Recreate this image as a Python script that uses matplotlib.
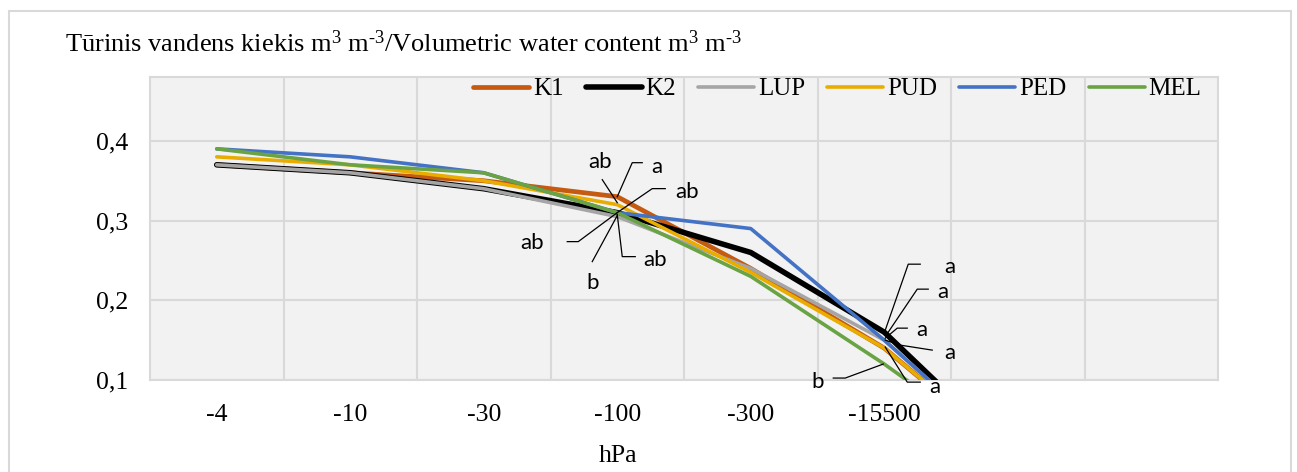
import matplotlib
matplotlib.use("Agg")
import matplotlib.pyplot as plt
from matplotlib.patches import Rectangle

# ---------------------------------------------------------------------------
# data
# ---------------------------------------------------------------------------
categories = ['-4', '-10', '-30', '-100', '-300', '-15500', '', '']
series_names = ['K1', 'K2', 'LUP', 'PUD', 'PED', 'MEL']

k1 = [0.37, 0.36, 0.35, 0.33, 0.24, 0.14, 0.0]
k2 = [0.37, 0.36, 0.34, 0.31, 0.26, 0.16, 0.0]
lup = [0.37, 0.36, 0.34, 0.305, 0.24, 0.15, 0.0]
pud = [0.38, 0.37, 0.35, 0.32, 0.235, 0.14, 0.0]
ped = [0.39, 0.38, 0.36, 0.31, 0.29, 0.15, 0.0]
mel = [0.39, 0.37, 0.36, 0.31, 0.23, 0.12, 0.0]

y_ticks = [0.1, 0.2, 0.3, 0.4]
y_tick_labels = ['0,1', '0,2', '0,3', '0,4']

# significance letters at -100 hPa and -15500 hPa
letters_100 = {'K1': 'a', 'K2': 'ab', 'LUP': 'b', 'PUD': 'ab', 'PED': 'ab', 'MEL': 'ab'}
letters_15500 = {'K1': 'a', 'K2': 'a', 'LUP': 'a', 'PUD': 'a', 'PED': 'a', 'MEL': 'b'}

# ---------------------------------------------------------------------------
# styling / layout
# ---------------------------------------------------------------------------
W, H, DPI = 1297, 472, 100
colors = {'K1': '#C55A11', 'K2': '#000000', 'LUP': '#A5A5A5',
          'PUD': '#E8AD00', 'PED': '#4472C4', 'MEL': '#6AA343'}
widths = {'K1': 3.4, 'K2': 4.0, 'LUP': 2.6, 'PUD': 2.6, 'PED': 2.6, 'MEL': 2.6}
grid_c = '#D9D9D9'

# label placement: text offset and leader vertices, in pixels relative to
# the data point (image coordinates, y pointing down)
label_layout_100 = {
    'K1':  ((40, -30), [(25, -34), (15, -34), (0, 0)]),
    'PUD': ((-17, -43), [(-15, -25), (0, -2)]),
    'PED': ((70, -21), [(48, -24), (35, -24), (0, 0)]),
    'K2':  ((-85, 30), [(-50, 29), (-39, 29), (0, 0)]),
    'MEL': ((38, 47), [(18, 44), (5, 44), (0, 2)]),
    'LUP': ((-25, 66), [(-25, 45), (0, -1)]),
}
label_layout_15500 = {
    'K2':  ((66, -65), [(36, -68), (24, -68), (1, -2)]),
    'PED': ((59, -48), [(44, -51), (33, -51), (4, -8)]),
    'LUP': ((38, -10), [(23, -12), (13, -12), (1, -2)]),
    'K1':  ((66, 5), [(48, 2), (16, -3), (1, -8)]),
    'MEL': ((-67, 18), [(-51, 14), (-39, 14), (-1, 0)]),
    'PUD': ((51, 39), [(36, 34), (23, 34), (1, -1)]),
}

plt.rcParams['font.family'] = ['Liberation Serif', 'DejaVu Serif']
plt.rcParams['mathtext.fontset'] = 'custom'
plt.rcParams['mathtext.rm'] = 'Liberation Serif'
plt.rcParams['mathtext.it'] = 'Liberation Serif:italic'

fig = plt.figure(figsize=(W / DPI, H / DPI), dpi=DPI)
fig.patch.set_facecolor('white')

# chart area border
fig.add_artist(Rectangle((9 / W, -0.05), (1291 - 9) / W, 1.05 - 11 / H,
                         transform=fig.transFigure, fill=False,
                         edgecolor=grid_c, linewidth=1.5))

# plot area
left, right, top, bottom = 150, 1218, 77, 380
ax = fig.add_axes([left / W, 1 - bottom / H, (right - left) / W, (bottom - top) / H])
ax.set_facecolor('#F2F2F2')

ymin = 0.1
ymax = 0.1 + 0.1 * (bottom - top) / 79.7
ax.set_xlim(-0.5, len(categories) - 0.5)
ax.set_ylim(ymin, ymax)

data = dict(zip(series_names, [k1, k2, lup, pud, ped, mel]))
x = list(range(len(k1)))
for name in series_names:
    ax.plot(x, data[name], color=colors[name], lw=widths[name], label=name,
            solid_capstyle='round', solid_joinstyle='round', zorder=3)

# grid
ax.set_xticks(range(len(categories)))
ax.set_xticklabels(categories, fontsize=18.5)
ax.set_xticks([i + 0.5 for i in range(len(categories) - 1)], minor=True)
ax.set_yticks(y_ticks)
ax.set_yticklabels(y_tick_labels, fontsize=18.5)
ax.grid(True, which='minor', axis='x', color=grid_c, lw=1.5, zorder=0)
ax.grid(True, which='major', axis='y', color=grid_c, lw=1.5, zorder=0)
ax.tick_params(which='both', length=0)
ax.tick_params(axis='x', pad=17)
ax.tick_params(axis='y', pad=16)
for s in ax.spines.values():
    s.set_color(grid_c)
    s.set_linewidth(1.5)

ax.set_xlabel('hPa', fontsize=18.5)
ax.xaxis.set_label_coords((618 - left) / (right - left), -(456 - bottom) / (bottom - top))
ax.xaxis.label.set_va('center')

# title
fig.text(65 / W, 1 - 44 / H,
         r'Tūrinis vandens kiekis $\mathrm{m}^{3}$ $\mathrm{m}^{\text{-3}}$/Volumetric water content '
         r'$\mathrm{m}^{3}$ $\mathrm{m}^{\text{-3}}$',
         fontsize=19, va='center', ha='left')

# legend
ax.legend(loc='center left', bbox_to_anchor=(473 / W, 1 - 89 / H),
          bbox_transform=fig.transFigure, ncol=6, frameon=False, fontsize=18,
          borderpad=0, borderaxespad=0, handlelength=2.24, handletextpad=0.16,
          columnspacing=0.88)

# significance letters with leader lines
ppx = (right - left) / (len(categories))
ppy = (bottom - top) / (ymax - ymin)


def put_labels(idx, letters, layout):
    for name, (txt_off, leader) in layout.items():
        x0, y0 = idx, data[name][idx]
        xs = [x0 + dx / ppx for dx, dy in leader]
        ys = [y0 - dy / ppy for dx, dy in leader]
        ax.plot(xs, ys, color='black', lw=0.9, zorder=5, clip_on=False)
        ax.text(x0 + txt_off[0] / ppx, y0 - txt_off[1] / ppy, letters[name],
                family=['Lato', 'DejaVu Sans'], fontsize=16, color='black',
                ha='center', va='center', zorder=6, clip_on=False)


put_labels(categories.index('-100'), letters_100, label_layout_100)
put_labels(categories.index('-15500'), letters_15500, label_layout_15500)

fig.savefig('out.png', dpi=DPI)
